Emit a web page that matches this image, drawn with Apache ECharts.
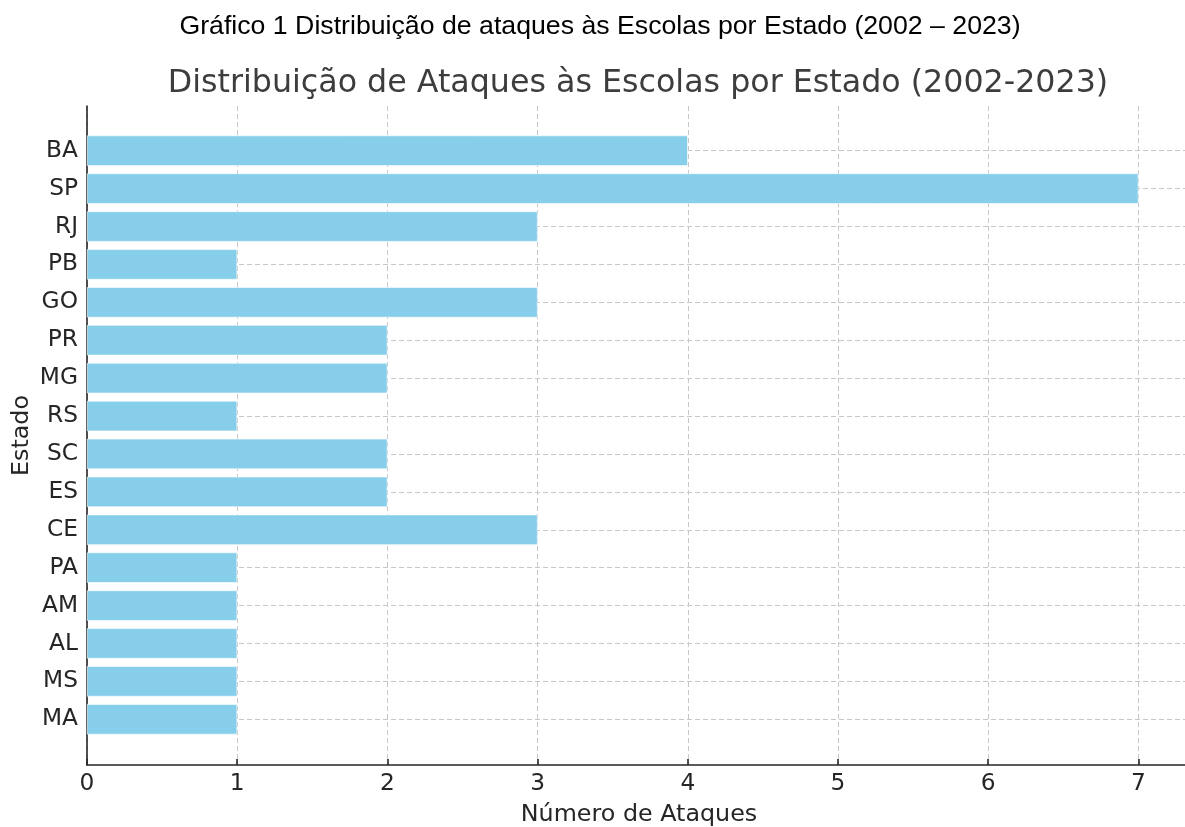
<!DOCTYPE html>
<html>
<head>
<meta charset="utf-8">
<script src="https://cdn.jsdelivr.net/npm/echarts@6/dist/echarts.min.js"></script>
<style>
html,body{margin:0;padding:0;background:#fff;}
#chart{width:1185px;height:827px;}
</style>
</head>
<body>
<div id="chart"></div>
<script>
const estados = ['BA','SP','RJ','PB','GO','PR','MG','RS','SC','ES','CE','PA','AM','AL','MS','MA'];
const ataques = [4,7,3,1,3,2,2,1,2,2,3,1,1,1,1,1];
const xTicks = [0,1,2,3,4,5,6,7];
const caption = 'Gráfico 1 Distribuição de ataques às Escolas por Estado (2002 – 2023)';
const chartTitle = 'Distribuição de Ataques às Escolas por Estado (2002-2023)';
const xName = 'Número de Ataques';
const yName = 'Estado';

const chart = echarts.init(document.getElementById('chart'));
const F = '"DejaVu Sans", sans-serif';
const axisColor = '#262626';
const gridLine = {show: true, lineStyle: {color: '#c8c8c8', type: [5, 3], width: 1}};
chart.setOption({
  animation: false,
  backgroundColor: '#fff',
  title: [
    {text: caption, left: 595, top: 8, textAlign: 'center',
     textStyle: {fontFamily: '"Liberation Sans", Arial, sans-serif', fontSize: 26.7, fontWeight: 'normal', color: '#000'}},
    {text: chartTitle, left: 633, top: 63, textAlign: 'center',
     textStyle: {fontFamily: F, fontSize: 31.7, fontWeight: 'normal', color: '#3d3d3d'}}
  ],
  grid: [
    {left: 87, right: -6, top: 106, bottom: 62, containLabel: false, outerBoundsMode: 'none'},
    {left: 87, right: -6, top: 131.75, bottom: 88.75, containLabel: false, outerBoundsMode: 'none'},
    {left: 87, right: -6, top: 150.7, bottom: 107.7, containLabel: false, outerBoundsMode: 'none'}
  ],
  xAxis: [
    {gridIndex: 0, type: 'value', min: 0, max: 7.35, interval: 1,
     name: xName, nameLocation: 'middle', nameGap: 38,
     nameTextStyle: {fontFamily: F, fontSize: 23.8, color: axisColor},
     axisLine: {show: true, lineStyle: {color: axisColor, width: 1.6}},
     axisTick: {show: true, inside: true, length: 6, lineStyle: {color: axisColor, width: 1.6}},
     axisLabel: {fontFamily: F, fontSize: 23.3, color: axisColor, margin: 7,
       showMaxLabel: false, formatter: v => xTicks.includes(v) ? String(v) : ''},
     splitLine: gridLine},
    {gridIndex: 1, type: 'value', min: 0, max: 7.35, show: false},
    {gridIndex: 2, type: 'value', min: 0, max: 7.35, show: false}
  ],
  yAxis: [
    {gridIndex: 0, type: 'value', min: 0, max: 1,
     name: yName, nameLocation: 'middle', nameGap: 53, nameRotate: 90,
     nameTextStyle: {fontFamily: F, fontSize: 23.8, color: axisColor},
     axisLine: {show: true, lineStyle: {color: axisColor, width: 1.6}},
     axisTick: {show: false}, axisLabel: {show: false}, splitLine: {show: false}},
    {gridIndex: 1, type: 'category', data: estados, inverse: true, show: false},
    {gridIndex: 2, type: 'category', data: estados, inverse: true, boundaryGap: false,
     axisLine: {show: false},
     axisTick: {show: true, inside: true, length: 6, lineStyle: {color: axisColor, width: 1.6}},
     axisLabel: {fontFamily: F, fontSize: 23.3, color: axisColor, margin: 9},
     splitLine: gridLine}
  ],
  series: [{
    type: 'bar', xAxisIndex: 1, yAxisIndex: 1, data: ataques,
    barWidth: '80%', z: 1,
    itemStyle: {color: '#87CEEB', borderColor: '#ffffff', borderWidth: 0.6}
  }]
});
</script>
</body>
</html>
